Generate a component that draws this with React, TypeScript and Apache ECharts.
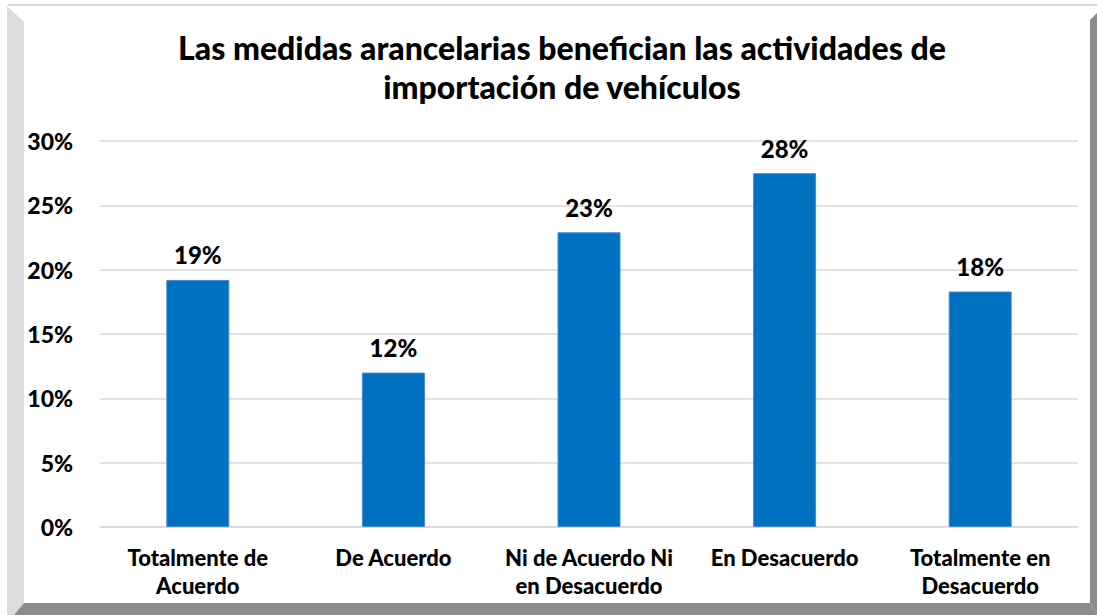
import React, { useEffect, useRef } from "react";
import * as echarts from "echarts";

const titleLines = [
  "Las medidas arancelarias benefician las actividades de",
  "importación de vehículos",
];
const categories = [
  "Totalmente de\nAcuerdo",
  "De Acuerdo",
  "Ni de Acuerdo Ni\nen Desacuerdo",
  "En Desacuerdo",
  "Totalmente en\nDesacuerdo",
];
const values = [0.192, 0.12, 0.229, 0.275, 0.183];
const yTicks = { min: 0, max: 0.3, interval: 0.05 };

const FONT = "Lato";
const W = 900;

export default function App() {
  const ref = useRef<HTMLDivElement>(null);
  useEffect(() => {
    if (!ref.current) return;
    const chart = echarts.init(ref.current, undefined, { renderer: "svg" });
    const light = "#DCDCDC";
    const dark = "#8C8C8C";
    chart.setOption({
      animation: false,
      backgroundColor: "#FFFFFF",
      textStyle: { fontFamily: FONT },
      grid: { left: 100, right: 19, top: 141, bottom: 88, containLabel: false },
      xAxis: {
        type: "category",
        data: categories,
        axisLine: { show: true, lineStyle: { color: "#D9D9D9", width: 1.5 } },
        axisTick: { show: false },
        axisLabel: {
          color: "#000",
          fontFamily: FONT,
          fontWeight: W,
          fontSize: 22,
          lineHeight: 28,
          margin: 16,
          interval: 0,
        },
      },
      yAxis: {
        type: "value",
        min: yTicks.min,
        max: yTicks.max,
        interval: yTicks.interval,
        axisLine: { show: false },
        axisTick: { show: false },
        splitLine: { lineStyle: { color: "#D9D9D9", width: 1.5 } },
        axisLabel: {
          color: "#000",
          fontFamily: FONT,
          fontWeight: W,
          fontSize: 23,
          margin: 27,
          formatter: (v: number) => Math.round(v * 100) + "%",
        },
      },
      series: [
        {
          type: "bar",
          data: values,
          barWidth: 63,
          itemStyle: { color: "#0070C0", borderColor: "#4A86D0", borderWidth: 1 },
          label: {
            show: true,
            position: "top",
            distance: 13,
            color: "#000",
            fontFamily: FONT,
            fontWeight: W,
            fontSize: 24,
            formatter: (p: any) => Math.round(p.value * 100) + "%",
          },
        },
      ],
      graphic: [
        { type: "rect", shape: { x: 8, y: 4, width: 1089, height: 2 }, style: { fill: "#D9D9D9" }, silent: true },
        { type: "polygon", shape: { points: [[7, 6], [24, 22], [24, 603], [14, 615], [7, 615]] }, style: { fill: light }, silent: true },
        { type: "polygon", shape: { points: [[14, 615], [24, 603], [1090, 603], [1097, 615]] }, style: { fill: dark }, silent: true },
        { type: "polygon", shape: { points: [[1090, 20], [1097, 13], [1097, 615], [1090, 603]] }, style: { fill: dark }, silent: true },
        {
          type: "text",
          x: 562,
          y: 47,
          style: {
            text: titleLines[0],
            fontFamily: FONT,
            fontWeight: W,
            fontSize: 32,
            fill: "#000",
            align: "center",
            verticalAlign: "middle",
          },
        },
        {
          type: "text",
          x: 562,
          y: 86,
          style: {
            text: titleLines[1],
            fontFamily: FONT,
            fontWeight: W,
            fontSize: 32,
            fill: "#000",
            align: "center",
            verticalAlign: "middle",
          },
        },
      ],
    });
    return () => chart.dispose();
  }, []);
  return (
    <div
      ref={ref}
      style={{ position: "absolute", left: 0, top: 0, width: 1097, height: 615 }}
    />
  );
}
